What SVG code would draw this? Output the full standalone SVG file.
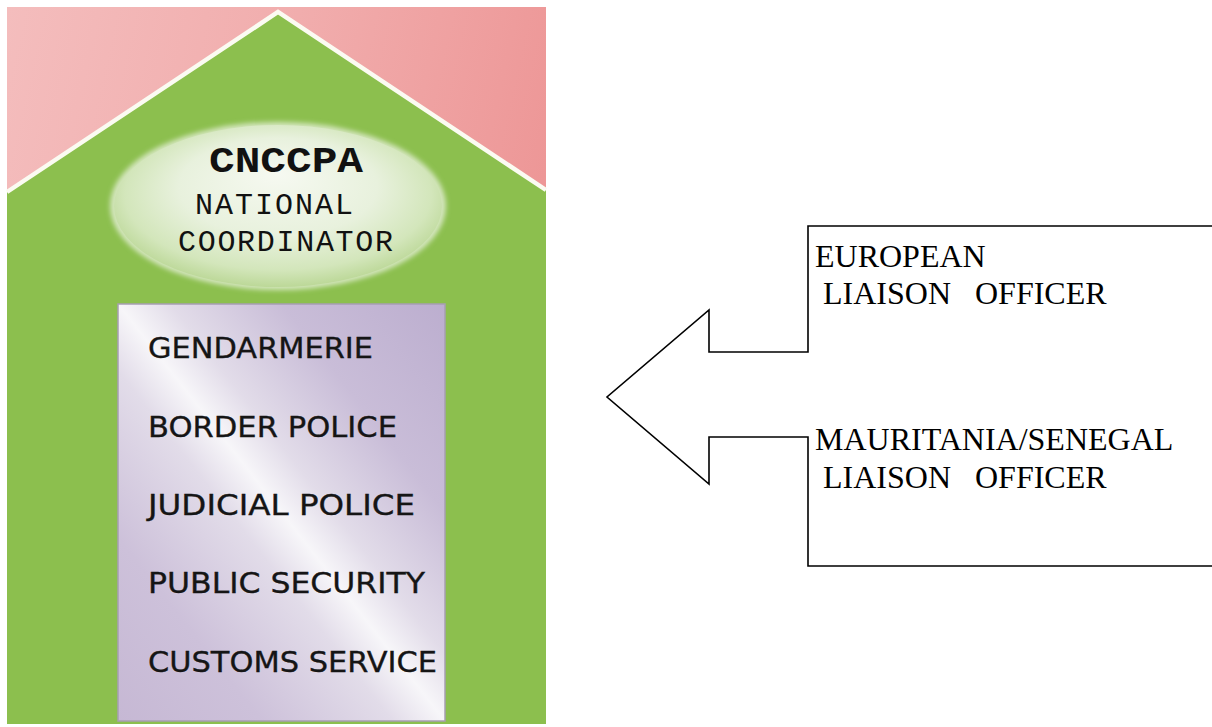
<svg xmlns="http://www.w3.org/2000/svg" width="1212" height="727" viewBox="0 0 1212 727">
  <style>
    .mono { font-family: "Liberation Mono", "Courier New", monospace; fill: #111; }
    .sans { font-family: "DejaVu Sans", "Liberation Sans", Arial, sans-serif; font-size: 29px; fill: #151515; stroke: #151515; stroke-width: 0.35; }
    .serif { font-family: "Liberation Serif", "Times New Roman", serif; font-size: 32px; fill: #000; }
    .outline { fill: #fff; stroke: #000; stroke-width: 1.6; }
  </style>
  <defs>
    <linearGradient id="pink" x1="0" y1="0" x2="1" y2="0.3">
      <stop offset="0" stop-color="#f4bdbd"/>
      <stop offset="0.5" stop-color="#f1adad"/>
      <stop offset="1" stop-color="#ed9696"/>
    </linearGradient>
    <radialGradient id="oval" cx="0.5" cy="0.45" r="0.55" fx="0.5" fy="0.3">
      <stop offset="0" stop-color="#f6f9f1"/>
      <stop offset="0.55" stop-color="#e8f1dd"/>
      <stop offset="0.85" stop-color="#d3e6bb"/>
      <stop offset="1" stop-color="#bcd898"/>
    </radialGradient>
    <linearGradient id="metal" x1="1" y1="0" x2="0" y2="1">
      <stop offset="0" stop-color="#bcaecf"/>
      <stop offset="0.25" stop-color="#c9bdd8"/>
      <stop offset="0.42" stop-color="#e2dce9"/>
      <stop offset="0.5" stop-color="#f7f6f9"/>
      <stop offset="0.58" stop-color="#e2dce9"/>
      <stop offset="0.78" stop-color="#cdc1da"/>
      <stop offset="1" stop-color="#c6b8d4"/>
    </linearGradient>
    <filter id="soft" x="-10%" y="-10%" width="120%" height="120%">
      <feGaussianBlur stdDeviation="2.5"/>
    </filter>
  </defs>

  <g id="house">
    <rect x="7" y="7" width="539" height="717" fill="url(#pink)"/>
    <polygon points="7,192 278,12 546,190 546,724 7,724" fill="#8cbf4e"/>
    <polyline points="7,192 278,12 546,190" fill="none" stroke="#fbfbf2" stroke-width="4.5"/>
  </g>

  <g id="coordinator">
    <ellipse cx="278" cy="206" rx="168" ry="84" fill="#d4e6bd" filter="url(#soft)"/>
    <ellipse cx="278" cy="206" rx="164" ry="81" fill="url(#oval)"/>
    <text class="mono" x="209" y="172" font-size="37" font-weight="bold" textLength="154" lengthAdjust="spacingAndGlyphs">CNCCPA</text>
    <text class="mono" x="195" y="214" font-size="30" textLength="158">NATIONAL</text>
    <text class="mono" x="178" y="251" font-size="30" textLength="215">COORDINATOR</text>
  </g>

  <g id="services">
    <rect x="118" y="304" width="327" height="417" fill="url(#metal)" stroke="#a79fb2" stroke-width="1.5"/>
    <text class="sans" x="148" y="358" textLength="225" lengthAdjust="spacingAndGlyphs">GENDARMERIE</text>
    <text class="sans" x="148" y="437" textLength="249" lengthAdjust="spacingAndGlyphs">BORDER POLICE</text>
    <text class="sans" x="148" y="515" textLength="267" lengthAdjust="spacingAndGlyphs">JUDICIAL POLICE</text>
    <text class="sans" x="148" y="593" textLength="277" lengthAdjust="spacingAndGlyphs">PUBLIC SECURITY</text>
    <text class="sans" x="148" y="672" textLength="289" lengthAdjust="spacingAndGlyphs">CUSTOMS SERVICE</text>
  </g>

  <g id="connectors">
    <path class="outline" d="M1213,226 L808,226 L808,352 L709,352 L709,310 L607,397 L709,484 L709,437 L808,437 L808,566 L1213,566"/>
  </g>

  <g id="liaison">
    <text class="serif" x="815" y="267">EUROPEAN</text>
    <text class="serif" x="815" y="304" xml:space="preserve"> LIAISON   OFFICER</text>
    <text class="serif" x="815" y="450">MAURITANIA/SENEGAL</text>
    <text class="serif" x="815" y="488" xml:space="preserve"> LIAISON   OFFICER</text>
  </g>
</svg>
